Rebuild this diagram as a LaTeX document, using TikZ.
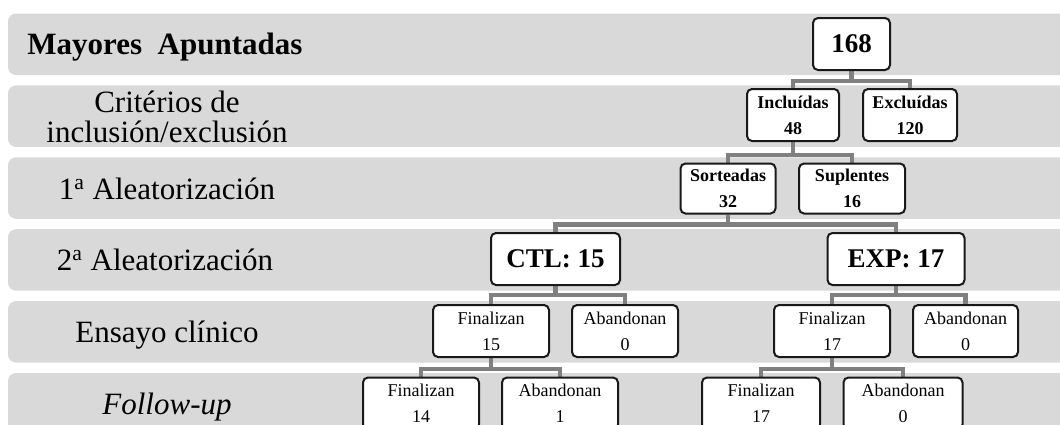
\documentclass[tikz,border=0pt]{standalone}
\usepackage{fontspec}
\setmainfont{Liberation Serif}
\definecolor{bandgray}{HTML}{D9D9D9}
\definecolor{linkgray}{HTML}{808080}
\pgfdeclarelayer{bands}
\pgfdeclarelayer{links}
\pgfsetlayers{bands,links,main}
\tikzset{
  box/.style={draw=black!90, line width=1pt, rounded corners=2.5pt, fill=white,
              inner sep=0pt, align=center, minimum height=26pt},
  smallbox/.style={box, font=\fontsize{9}{13}\selectfont},
  smallbold/.style={box, font=\fontsize{9}{13}\selectfont\bfseries},
  bigbox/.style={box, font=\fontsize{13.5}{16}\selectfont\bfseries},
  lbl/.style={font=\fontsize{15.5}{14.75}\selectfont, inner sep=0pt},
  link/.style={draw=linkgray, line width=2.4pt},
  band/.style={fill=bandgray, rounded corners=4pt}
}
\begin{document}
\begin{tikzpicture}[x=0.5pt, y=-0.5pt]
\useasboundingbox (0,0) rectangle (1060,424);
\clip (0,0) rectangle (1060,424);
% bands
\begin{pgfonlayer}{bands}
  \clip (0,0) rectangle (1060,424);
  \foreach \t in {13.5,85.4,157.3,229.2,301.1,373} {
    \fill[band] (8,\t) rectangle (1075,\t+61.5);
  }
\end{pgfonlayer}
% band labels
\node[lbl, font=\fontsize{15.5}{14.75}\selectfont\bfseries, anchor=base west] (l1) at (27,54.5) {Mayores\ \ Apuntadas};
\node[lbl, align=center] (l2) at (167,117) {Critérios de\\inclusión/exclusión};
\node[lbl, anchor=base] (l3) at (167,199.5) {1\textsuperscript{a} Aleatorización};
\node[lbl, anchor=base] (l4) at (165,270.5) {2\textsuperscript{a} Aleatorización};
\node[lbl, anchor=base] (l5) at (167,342.5) {Ensayo clínico};
\node[lbl, anchor=base] (l6) at (167,414.5) {\itshape Follow-up};
% boxes
\node[bigbox, minimum width=38.5pt] (n168) at (851.5,44) {168};
\node[smallbold, minimum width=46pt] (incl) at (793,115) {Incluídas\\48};
\node[smallbold, minimum width=47pt] (excl) at (910,115) {Excluídas\\120};
\node[smallbold, minimum width=47.5pt, minimum height=25pt] (sort) at (728,188.5) {Sorteadas\\32};
\node[smallbold, minimum width=53pt, minimum height=25pt] (supl) at (852,188.5) {Suplentes\\16};
\node[bigbox, minimum width=64.5pt] (ctl) at (555.5,259) {CTL: 15};
\node[bigbox, minimum width=68.5pt] (exp) at (896,259) {EXP: 17};
\node[smallbox, minimum width=58pt] (cfin) at (491,331) {Finalizan\\15};
\node[smallbox, minimum width=53pt] (caba) at (625,331) {Abandonan\\0};
\node[smallbox, minimum width=58pt] (efin) at (832,331) {Finalizan\\17};
\node[smallbox, minimum width=52.5pt] (eaba) at (965.5,331) {Abandonan\\0};
\node[smallbox, minimum width=58pt] (cffin) at (421,403.5) {Finalizan\\14};
\node[smallbox, minimum width=58pt] (cfaba) at (560,403.5) {Abandonan\\1};
\node[smallbox, minimum width=59pt] (effin) at (761,403.5) {Finalizan\\17};
\node[smallbox, minimum width=59.5pt] (efaba) at (903,403.5) {Abandonan\\0};
% connectors
\begin{pgfonlayer}{links}
  \draw[link] (n168.south) -- ++(0,10) coordinate (j1);
  \draw[link] (incl.north) |- (j1) -| (excl.north);
  \draw[link] (incl.south) -- ++(0,13) coordinate (j2);
  \draw[link] (sort.north) |- (j2) -| (supl.north);
  \draw[link] (sort.south) -- ++(0,10) coordinate (j3);
  \draw[link] (ctl.north) |- (j3) -| (exp.north);
  \draw[link] (ctl.south) -- ++(0,9) coordinate (j4);
  \draw[link] (cfin.north) |- (j4) -| (caba.north);
  \draw[link] (exp.south) -- ++(0,9) coordinate (j5);
  \draw[link] (efin.north) |- (j5) -| (eaba.north);
  \draw[link] (cfin.south) -- ++(0,11) coordinate (j6);
  \draw[link] (cffin.north) |- (j6) -| (cfaba.north);
  \draw[link] (efin.south) -- ++(0,11) coordinate (j7);
  \draw[link] (effin.north) |- (j7) -| (efaba.north);
\end{pgfonlayer}
\end{tikzpicture}
\end{document}
